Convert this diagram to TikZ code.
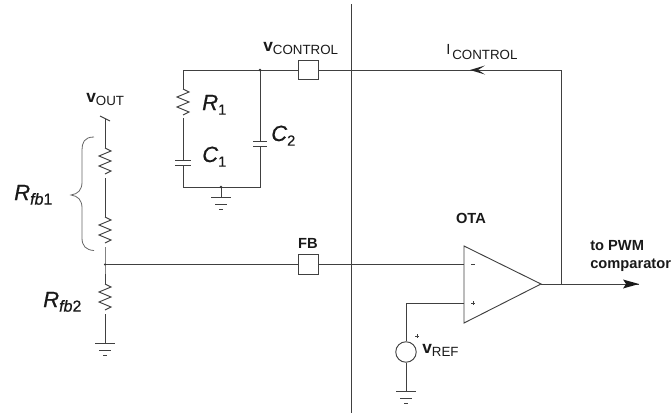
\documentclass[tikz,border=0pt]{standalone}
\usepackage{fontspec}
\setmainfont{Liberation Sans}
\newfontfamily\biglet[ItalicFont={Liberation Sans Italic},ItalicFeatures={FakeBold=0.7},UprightFeatures={FakeBold=0.4}]{Liberation Sans}
\usetikzlibrary{calc}
\tikzset{
  wire/.style={draw=black!75,line width=0.7pt},
  termbox/.style={draw=black!75,line width=0.7pt,fill=white,minimum width=15pt,minimum height=14.5pt,inner sep=0pt},
  lbl/.style={inner sep=0pt,text=black!90},
  dotj/.style={circle,fill=black!80,inner sep=0pt,minimum size=2pt},
}
\newcommand{\gnd}[1]{%
  \draw[wire] ($(#1)+(-10,0)$) -- ($(#1)+(10,0)$);
  \draw[wire] ($(#1)+(-6,7)$) -- ($(#1)+(6,7)$);
  \draw[wire] ($(#1)+(-2,12)$) -- ($(#1)+(2,12)$);}
\newcommand{\zig}[2]{% x, ytop : 30 px tall resistor
  \draw[wire] (#1,#2) -- ++(6,3) -- ++(-12,5) -- ++(12,5) -- ++(-12,5) -- ++(12,5) -- ++(-6,3) ;}
\newcommand{\vlab}[1]{{\fontsize{13}{13}\selectfont\bfseries v\fontsize{10}{10}\selectfont\raisebox{-2.25pt}{\mdseries #1}}}
\newcommand{\itlab}[2]{{\biglet\fontsize{16.5}{17}\selectfont\itshape #1\raisebox{-3.5pt}{#2}}}
\newcommand{\bsub}[1]{\fontsize{11}{11}\selectfont\upshape #1}
\newcommand{\fsub}[2]{\fontsize{12}{12}\selectfont\itshape #1\upshape #2}
\newcommand{\blab}[1]{{\fontsize{11}{11}\selectfont\bfseries #1}}
\begin{document}
\begin{tikzpicture}[x=0.75pt,y=-0.75pt]
\useasboundingbox (0,0) rectangle (671,418);
% nodes
\node[termbox] (vc) at (308,70) {};
\node[termbox] (fb) at (308,264.5) {};
\coordinate (tl) at (183,70);
\coordinate (j2) at (260,70);
\coordinate (corner) at (561,70);
\coordinate (bl) at (183,187);
\coordinate (br) at (260,187);
\coordinate (gj) at (221,187);
\coordinate (g1) at (221,197);
\coordinate (fbj) at (105,264.5);
\coordinate (g2) at (105,343);
\coordinate (g3) at (406,391);
\coordinate (tip) at (541,284);
\coordinate (outj) at (561,284);
\coordinate (outend) at (639,284);
\node[circle,draw=black!75,line width=0.7pt,minimum size=15.4pt,inner sep=0pt] (src) at (406,352) {};
% divider
\draw[wire] (351,4) -- (351,413);
% control net
\draw[wire] (tl) -- (vc);
\draw[wire] (vc) -- (corner) -- (outj);
\draw[wire] (tl) -- (183,89);
\zig{183}{89}
\draw[wire] (183,118) -- (183,160);
\draw[wire] (175,160) -- (191,160);
\draw[wire] (175,165) -- (191,165);
\draw[wire] (183,165) -- (bl) -- (br) -- (260,146);
\draw[wire] (253,146) -- (267,146);
\draw[wire] (253,141) -- (267,141);
\draw[wire] (j2) -- (260,141);
\draw[wire] (gj) -- (g1);
\gnd{g1}
\node[dotj] at (j2) {};
\node[dotj] at (gj) {};
% I arrow
\fill[black!85] (470,70) -- (485,65.5) -- (478,70) -- (485,74.5) -- cycle;
% feedback
\draw[wire] (100,116) -- (110,121);
\draw[wire] (105,118.5) -- (105,148);
\zig{105}{148}
\draw[wire] (105,178) -- (105,217);
\zig{105}{217}
\draw[wire] (105,247) -- (fbj) -- (105,284);
\zig{105}{284}
\draw[wire] (105,314) -- (g2);
\gnd{g2}
\draw[wire] (fbj) -- (fb);
\draw[wire] (fb) -- (464,264.5);
\node[dotj,minimum size=1.6pt] at (fbj) {};
% OTA
\draw[wire] (464,246) -- (tip) -- (464,323) -- cycle;
\draw[wire] (471,264.5) -- (475,264.5);
\draw[wire] (471,303) -- (475,303) (473,301) -- (473,305);
\draw[wire] (464,303) -- (406,303) -- (src);
\draw[wire] (src) -- (g3);
\gnd{g3}
\draw[wire] (tip) -- (outend);
\fill[black!90] (639,284) -- (623,279.5) -- (626,284) -- (623,288.5) -- cycle;
% source plus
\draw[black!75,line width=0.5pt] (415,336) -- (419,336) (417,334) -- (417,338);
% brace
\draw[black!60,line width=0.6pt] (94,137) .. controls (84,137) and (82,143) .. (82,150)
 -- (82,182) .. controls (82,190) and (78,194) .. (71,195)
 .. controls (78,196) and (82,200) .. (82,208)
 -- (82,238) .. controls (82,246) and (86,250) .. (94,250.5);
% labels
\node[lbl,anchor=base west] (lvc) at (263,51) {\vlab{CONTROL}};
\node[lbl,anchor=base west] (lic) at (446,54) {\fontsize{11}{11}\selectfont I\fontsize{10}{10}\selectfont\raisebox{-3.75pt}{\hspace{1.5pt}CONTROL}};
\node[lbl,anchor=base west] (lvo) at (86,102) {\vlab{OUT}};
\node[lbl,anchor=base west] (lr1) at (202,110) {\itlab{R}{\bsub{1}}};
\node[lbl,anchor=base west] (lc1) at (202,162) {\itlab{C}{\bsub{1}}};
\node[lbl,anchor=base west] (lc2) at (271,141) {\itlab{C}{\bsub{2}}};
\node[lbl,anchor=base west] (lfb1) at (14,200) {\itlab{R}{\fsub{fb}{1}}};
\node[lbl,anchor=base west] (lfb2) at (43,307) {\itlab{R}{\fsub{fb}{2}}};
\node[lbl,anchor=base] (lfb) at (308,248) {\blab{FB}};
\node[lbl,anchor=base] (lota) at (471,223) {\blab{OTA}};
\node[lbl,anchor=base west] (lpwm) at (590,250) {\blab{to PWM}};
\node[lbl,anchor=base west] (lcmp) at (590,268) {\blab{comparator}};
\node[lbl,anchor=base west] (lvr) at (422,353) {\vlab{REF}};
\end{tikzpicture}
\end{document}
